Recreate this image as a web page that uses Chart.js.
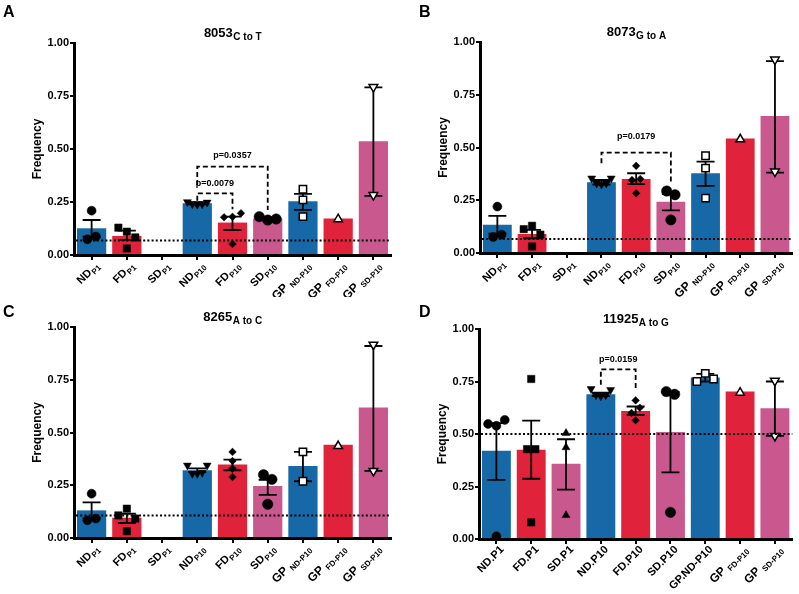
<!DOCTYPE html>
<html>
<head>
<meta charset="utf-8">
<script src="https://cdn.jsdelivr.net/npm/chart.js@4.4.1/dist/chart.umd.min.js"></script>
<style>
  body { margin: 0; background: #fff; }
  #fig { position: relative; width: 799px; height: 594px; background: #fff; }
  canvas { position: absolute; }
</style>
</head>
<body>
<div id="fig">
  <canvas id="chartA" width="400" height="297" style="left:0;top:0"></canvas>
  <canvas id="chartB" width="399" height="297" style="left:400px;top:0"></canvas>
  <canvas id="chartC" width="400" height="297" style="left:0;top:297px"></canvas>
  <canvas id="chartD" width="399" height="297" style="left:400px;top:297px"></canvas>
</div>
<script>
// categorias (nombre + subindice)
const groups = ['ND', 'FD', 'SD', 'ND', 'FD', 'SD', 'GP', 'GP', 'GP'];
const groupSubs = ['P1', 'P1', 'P1', 'P10', 'P10', 'P10', 'ND-P10', 'FD-P10', 'SD-P10'];
const groupsD = ['ND.P1', 'FD.P1', 'SD.P1', 'ND.P10', 'FD.P10', 'SD.P10', 'GP.ND-P10', 'GP', 'GP'];
const groupSubsD = ['', '', '', '', '', '', '', 'FD-P10', 'SD-P10'];
const yTicks = [0, 0.25, 0.5, 0.75, 1];

// A: 8053 C to T
const titleA = ['8053', 'C to T'];
const meanA = [0.126, 0.090, 0, 0.244, 0.153, 0.172, 0.254, 0.172, 0.537];
const hiA = [0.165, 0.115, null, 0.249, 0.181, 0.177, 0.288, null, 0.791];
const loA = [0.087, 0.071, null, 0.239, 0.118, 0.167, 0.213, null, 0.279];
const ptsA = [[0.209, 0.074, 0.087], [0.129, 0.110, 0.083, 0.031], [], [0.250, 0.240, 0.238, 0.240, 0.248],
  [0.178, 0.180, 0.197, 0.052], [0.181, 0.165, 0.170], [0.310, 0.260, 0.181], [0.169], [0.792, 0.283]];
const cutoffA = 0.068;
const bracketsA = [
  { from: 3, to: 4, y: 0.291, legFrom: 0.256, legTo: 0.216, text: 'p=0.0079', textY: 0.338 },
  { from: 3, to: 5, y: 0.417, legFrom: 0.330, legTo: 0.212, text: 'p=0.0357', textY: 0.467 }
];

// B: 8073 G to A
const titleB = ['8073', 'G to A'];
const meanB = [0.134, 0.090, 0, 0.335, 0.351, 0.243, 0.378, 0.543, 0.649];
const hiB = [0.176, 0.110, null, 0.346, 0.378, 0.279, 0.433, null, 0.909];
const loB = [0.092, 0.070, null, 0.324, 0.326, 0.202, 0.318, null, 0.381];
const ptsB = [[0.220, 0.076, 0.087], [0.113, 0.129, 0.087, 0.031], [], [0.354, 0.330, 0.325, 0.330, 0.354],
  [0.346, 0.413, 0.351, 0.283], [0.294, 0.276, 0.157], [0.461, 0.402, 0.260], [0.539], [0.917, 0.386]];
const cutoffB = 0.066;
const bracketsB = [
  { from: 3, to: 5, y: 0.476, legFrom: 0.425, legTo: 0.339, text: 'p=0.0179', textY: 0.551 }
];

// C: 8265 A to C
const titleC = ['8265', 'A to C'];
const meanC = [0.131, 0.096, 0, 0.321, 0.348, 0.246, 0.341, 0.442, 0.618];
const hiC = [0.169, 0.115, null, 0.330, 0.371, 0.276, 0.408, null, 0.910];
const loC = [0.093, 0.071, null, 0.312, 0.321, 0.204, 0.269, null, 0.318];
const ptsC = [[0.210, 0.084, 0.092], [0.107, 0.139, 0.092, 0.032], [], [0.344, 0.305, 0.305, 0.310, 0.344],
  [0.289, 0.408, 0.329, 0.365], [0.300, 0.278, 0.160], [0.408, 0.269], [0.436], [0.916, 0.318]];
const cutoffC = 0.107;
const bracketsC = [];

// D: 11925 A to G
const titleD = ['11925', 'A to G'];
const meanD = [0.420, 0.425, 0.358, 0.689, 0.610, 0.509, 0.769, 0.702, 0.623];
const hiD = [0.552, 0.564, 0.475, 0.697, 0.631, 0.700, 0.786, null, 0.750];
const loD = [0.282, 0.287, 0.235, 0.681, 0.591, 0.317, 0.750, null, 0.491];
const ptsD = [[0.548, 0.539, 0.567, 0.013], [0.762, 0.428, 0.428, 0.079], [0.504, 0.436, 0.113],
  [0.715, 0.685, 0.680, 0.685, 0.710], [0.660, 0.565, 0.600, 0.625], [0.702, 0.689, 0.127],
  [0.750, 0.789, 0.762], [0.697], [0.753, 0.491]];
const cutoffD = 0.5;
const bracketsD = [
  { from: 3, to: 4, y: 0.808, legFrom: 0.734, legTo: 0.713, text: 'p=0.0159', textY: 0.856 }
];

const FONT = '"Liberation Sans", Arial, sans-serif';
const BLUE = '#1669a6';
const RED = '#e0223a';
const PINK = '#c8588e';
const barColors = [BLUE, RED, PINK, BLUE, RED, PINK, BLUE, RED, PINK];

// marcador de cada grupo
const markers = [
  { style: 'circle', r: 4.5, fill: '#000' },
  { style: 'rect', r: 5.2, fill: '#000' },
  { style: 'triangle', r: 4.6, fill: '#000' },
  { style: 'triangle', r: 4.6, fill: '#000', rot: 180 },
  { style: 'rectRot', r: 3.8, fill: '#000' },
  { style: 'circle', r: 5.2, fill: '#000' },
  { style: 'rect', r: 5.2, fill: '#fff' },
  { style: 'triangle', r: 5, fill: '#fff' },
  { style: 'triangle', r: 5, fill: '#fff', rot: 180 }
];

// separa los puntos que se solapan (como en GraphPad)
function spreadPoints(pts) {
  const out = [];
  pts.forEach((vals, cat) => {
    const order = vals.map((v, i) => i).sort((a, b) => vals[a] - vals[b]);
    const clusters = [];
    order.forEach(i => {
      const last = clusters[clusters.length - 1];
      if (last && vals[i] - vals[last[last.length - 1]] < 0.035) last.push(i);
      else clusters.push([i]);
    });
    clusters.forEach(cl => {
      cl.sort((a, b) => a - b);
      const step = cl.length > 4 ? 0.14 : 0.24;
      cl.forEach((i, k) => {
        out.push({ x: cat + (k - (cl.length - 1) / 2) * step, y: vals[i], cat: cat });
      });
    });
  });
  return out;
}

function makeChart(id, cfg) {
  const canvas = document.getElementById(id);
  const W = canvas.width, H = canvas.height;
  const area = cfg.area;

  const figurePlugin = {
    id: 'figure_' + id,
    beforeDatasetDraw(chart, args) {
      if (args.index !== 1) return;
      // barras de error
      const ctx = chart.ctx, x = chart.scales.x, y = chart.scales.y;
      ctx.save();
      ctx.strokeStyle = '#000';
      ctx.lineWidth = 1.8;
      cfg.means.forEach((m, i) => {
        if (cfg.hi[i] == null) return;
        const px = x.getPixelForValue(i);
        const yh = y.getPixelForValue(cfg.hi[i]);
        const yl = y.getPixelForValue(cfg.lo[i]);
        ctx.beginPath();
        ctx.moveTo(px, yh); ctx.lineTo(px, yl);
        ctx.moveTo(px - 9, yh); ctx.lineTo(px + 9, yh);
        ctx.moveTo(px - 9, yl); ctx.lineTo(px + 9, yl);
        ctx.stroke();
      });
      ctx.restore();
    },
    afterDatasetsDraw(chart) {
      const ctx = chart.ctx, x = chart.scales.x, y = chart.scales.y, a = chart.chartArea;
      ctx.save();
      // linea punteada de corte
      ctx.strokeStyle = '#000';
      ctx.lineWidth = 2;
      ctx.setLineDash([2, 2.2]);
      const cy = y.getPixelForValue(cfg.cutoff);
      ctx.beginPath();
      ctx.moveTo(a.left + 2, cy); ctx.lineTo(a.right, cy);
      ctx.stroke();
      // corchetes de significancia
      ctx.setLineDash([5, 3]);
      ctx.lineWidth = 1.8;
      cfg.brackets.forEach(b => {
        const x1 = x.getPixelForValue(b.from), x2 = x.getPixelForValue(b.to);
        const yt = y.getPixelForValue(b.y);
        ctx.beginPath();
        ctx.moveTo(x1, y.getPixelForValue(b.legFrom));
        ctx.lineTo(x1, yt); ctx.lineTo(x2, yt);
        ctx.lineTo(x2, y.getPixelForValue(b.legTo));
        ctx.stroke();
      });
      ctx.setLineDash([]);
      ctx.fillStyle = '#000';
      ctx.font = 'bold 9px ' + FONT;
      ctx.textAlign = 'center';
      ctx.textBaseline = 'middle';
      cfg.brackets.forEach(b => {
        const mx = (x.getPixelForValue(b.from) + x.getPixelForValue(b.to)) / 2;
        ctx.fillText(b.text, mx, y.getPixelForValue(b.textY));
      });
      ctx.restore();
    },
    afterDraw(chart) {
      const ctx = chart.ctx, x = chart.scales.x, a = chart.chartArea;
      ctx.save();
      ctx.fillStyle = '#000';
      // etiquetas del eje x, rotadas
      cfg.names.forEach((name, i) => {
        const px = x.getPixelForValue(i);
        const sub = cfg.subs[i];
        ctx.save();
        ctx.translate(px + 8, a.bottom + 11);
        ctx.rotate(-Math.PI / 4);
        ctx.textAlign = 'right';
        ctx.textBaseline = 'alphabetic';
        let sw = 0;
        if (sub) {
          ctx.font = 'bold 8px ' + FONT;
          sw = ctx.measureText(sub).width + (name === 'GP' ? 3 : 0.5);
          ctx.fillText(sub, 0, 3);
        }
        ctx.font = (name === 'GP' ? 'bold 12px ' : 'bold 11px ') + FONT;
        ctx.fillText(name, -sw, 0);
        ctx.restore();
      });
      // titulo con subindice
      ctx.textAlign = 'left';
      ctx.textBaseline = 'alphabetic';
      ctx.font = 'bold 13px ' + FONT;
      const w1 = ctx.measureText(cfg.title[0]).width;
      ctx.font = 'bold 10px ' + FONT;
      const w2 = ctx.measureText(cfg.title[1]).width;
      const tx = (a.left + a.right) / 2 - (w1 + w2) / 2;
      const ty = a.top - 6;
      ctx.font = 'bold 13px ' + FONT;
      ctx.fillText(cfg.title[0], tx, ty);
      ctx.font = 'bold 10px ' + FONT;
      ctx.fillText(cfg.title[1], tx + w1 + 0.5, ty + 3);
      // letra del panel
      ctx.font = 'bold 16px ' + FONT;
      ctx.fillText(cfg.letter, cfg.letterX, cfg.letterY);
      // titulo eje y
      ctx.save();
      ctx.translate(a.left - 36, (a.top + a.bottom) / 2);
      ctx.rotate(-Math.PI / 2);
      ctx.textAlign = 'center';
      ctx.textBaseline = 'middle';
      ctx.font = 'bold 12px ' + FONT;
      ctx.fillText('Frequency', 0, 0);
      ctx.restore();
      ctx.restore();
    }
  };

  return new Chart(canvas, {
    type: 'bar',
    data: {
      labels: cfg.names,
      datasets: [
        {
          type: 'bar',
          data: cfg.means,
          backgroundColor: barColors,
          borderWidth: 0,
          barPercentage: 0.83,
          categoryPercentage: 1,
          grouped: false,
          xAxisID: 'x',
          yAxisID: 'y',
          order: 1
        },
        {
          type: 'scatter',
          data: spreadPoints(cfg.pts),
          xAxisID: 'xp',
          yAxisID: 'y',
          order: 0,
          clip: false,
          pointStyle: c => markers[c.raw.cat].style,
          radius: c => markers[c.raw.cat].r,
          rotation: c => markers[c.raw.cat].rot || 0,
          backgroundColor: c => markers[c.raw.cat].fill,
          borderColor: '#000',
          borderWidth: c => markers[c.raw.cat].fill === '#fff' ? 1.5 : 0.5,
          hoverRadius: c => markers[c.raw.cat].r
        }
      ]
    },
    options: {
      responsive: false,
      animation: false,
      events: [],
      layout: { padding: { left: 0, top: area.top, right: W - area.right, bottom: 0 } },
      plugins: { legend: { display: false }, tooltip: { enabled: false }, title: { display: false } },
      scales: {
        x: {
          type: 'category',
          offset: true,
          grid: { display: true, drawOnChartArea: false, offset: false, tickLength: 5, color: '#000', lineWidth: 2 },
          border: { display: true, color: '#000', width: 3 },
          ticks: { display: false },
          afterFit: s => { s.height = H - area.bottom; }
        },
        xp: {
          type: 'linear',
          display: false,
          offset: false,
          grid: { offset: false },
          min: -0.5,
          max: cfg.means.length - 0.5
        },
        y: {
          min: 0,
          max: 1,
          afterBuildTicks: s => { s.ticks = yTicks.map(v => ({ value: v })); },
          grid: { display: true, drawOnChartArea: false, tickLength: 4, color: '#000', lineWidth: 2 },
          border: { display: true, color: '#000', width: 3 },
          ticks: {
            padding: 1,
            color: '#000',
            font: { family: FONT, size: 11, weight: 'bold' },
            callback: v => v.toFixed(2)
          },
          afterFit: s => { s.width = area.left; }
        }
      }
    },
    plugins: [figurePlugin]
  });
}

makeChart('chartA', {
  names: groups, subs: groupSubs, title: titleA, letter: 'A', letterX: 3, letterY: 17,
  means: meanA, hi: hiA, lo: loA, pts: ptsA, cutoff: cutoffA, brackets: bracketsA,
  area: { left: 74, top: 43, right: 391, bottom: 255 }
});
makeChart('chartB', {
  names: groups, subs: groupSubs, title: titleB, letter: 'B', letterX: 19, letterY: 17,
  means: meanB, hi: hiB, lo: loB, pts: ptsB, cutoff: cutoffB, brackets: bracketsB,
  area: { left: 80, top: 42, right: 395, bottom: 253 }
});
makeChart('chartC', {
  names: groups, subs: groupSubs, title: titleC, letter: 'C', letterX: 3, letterY: 20,
  means: meanC, hi: hiC, lo: loC, pts: ptsC, cutoff: cutoffC, brackets: bracketsC,
  area: { left: 74, top: 30, right: 391, bottom: 241 }
});
makeChart('chartD', {
  names: groupsD, subs: groupSubsD, title: titleD, letter: 'D', letterX: 19, letterY: 20,
  means: meanD, hi: hiD, lo: loD, pts: ptsD, cutoff: cutoffD, brackets: bracketsD,
  area: { left: 79, top: 32, right: 394, bottom: 242 }
});
</script>
</body>
</html>
